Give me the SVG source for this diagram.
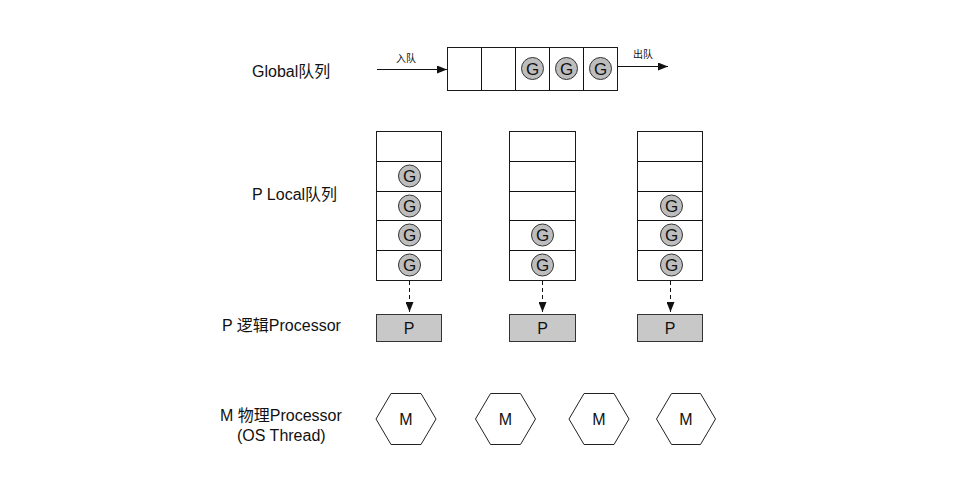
<svg xmlns="http://www.w3.org/2000/svg" width="971" height="499" viewBox="0 0 971 499">
<defs>
<style>
.lbl{font-family:"Liberation Sans","Noto Sans CJK SC",sans-serif;font-size:16px;fill:#111}
.sm{font-family:"Liberation Sans","Noto Sans CJK SC",sans-serif;font-size:10px;fill:#111}
.cell{fill:#fff;stroke:#1a1a1a;stroke-width:1}
.gt{font-family:"Liberation Sans",sans-serif;font-size:16px;fill:#111;text-anchor:middle}
.gg{font-family:"Liberation Sans",sans-serif;font-size:17px;fill:#111;text-anchor:middle}
.pbox{fill:#c8c8c8;stroke:#333;stroke-width:1}
.hex{fill:#fff;stroke:#222;stroke-width:1}
.line{stroke:#111;stroke-width:1;fill:none}
.dash{stroke:#111;stroke-width:1;fill:none;stroke-dasharray:4,3}
</style>
<marker id="ah" markerWidth="10" markerHeight="8" refX="10" refY="4" orient="auto" markerUnits="userSpaceOnUse">
<path d="M0,0 L10,4 L0,8 z" fill="#111"/>
</marker>
<symbol id="gc" overflow="visible">
<circle cx="0" cy="0" r="11" fill="#bdbdbd" stroke="#333" stroke-width="1"/>
<text x="0" y="6" class="gg">G</text>
</symbol>
</defs>
<rect width="971" height="499" fill="#fff"/>

<g id="labels">
<text class="lbl" x="252" y="77">Global队列</text>
<text class="lbl" x="252" y="200">P Local队列</text>
<text class="lbl" x="222" y="331">P 逻辑Processor</text>
<text class="lbl" x="220" y="421">M 物理Processor</text>
<text class="lbl" x="237" y="441">(OS Thread)</text>
</g>

<g id="global-queue">
<rect class="cell" x="447.5" y="47.5" width="170" height="43"/>
<line class="line" x1="481.5" y1="47.5" x2="481.5" y2="90.5"/>
<line class="line" x1="515.5" y1="47.5" x2="515.5" y2="90.5"/>
<line class="line" x1="549.5" y1="47.5" x2="549.5" y2="90.5"/>
<line class="line" x1="583.5" y1="47.5" x2="583.5" y2="90.5"/>
<use href="#gc" x="532.5" y="68.5"/>
<use href="#gc" x="566.5" y="68.5"/>
<use href="#gc" x="600.5" y="68.5"/>
</g>

<g id="local-queue-1">
<rect class="cell" x="376.5" y="131.5" width="65" height="149"/>
<line class="line" x1="376.5" y1="161.5" x2="441.5" y2="161.5"/>
<line class="line" x1="376.5" y1="191.5" x2="441.5" y2="191.5"/>
<line class="line" x1="376.5" y1="220.5" x2="441.5" y2="220.5"/>
<line class="line" x1="376.5" y1="250.5" x2="441.5" y2="250.5"/>
<use href="#gc" x="409.5" y="176"/>
<use href="#gc" x="409.5" y="206"/>
<use href="#gc" x="409.5" y="235"/>
<use href="#gc" x="409.5" y="265"/>
</g>

<g id="local-queue-2">
<rect class="cell" x="509.5" y="131.5" width="66" height="149"/>
<line class="line" x1="509.5" y1="161.5" x2="575.5" y2="161.5"/>
<line class="line" x1="509.5" y1="191.5" x2="575.5" y2="191.5"/>
<line class="line" x1="509.5" y1="220.5" x2="575.5" y2="220.5"/>
<line class="line" x1="509.5" y1="250.5" x2="575.5" y2="250.5"/>
<use href="#gc" x="542.5" y="235"/>
<use href="#gc" x="542.5" y="265"/>
</g>

<g id="local-queue-3">
<rect class="cell" x="637.5" y="131.5" width="65" height="149"/>
<line class="line" x1="637.5" y1="161.5" x2="702.5" y2="161.5"/>
<line class="line" x1="637.5" y1="191.5" x2="702.5" y2="191.5"/>
<line class="line" x1="637.5" y1="220.5" x2="702.5" y2="220.5"/>
<line class="line" x1="637.5" y1="250.5" x2="702.5" y2="250.5"/>
<use href="#gc" x="671.5" y="206"/>
<use href="#gc" x="671.5" y="235"/>
<use href="#gc" x="671.5" y="265"/>
</g>

<g id="p1">
<rect class="pbox" x="376.5" y="314.5" width="65" height="27"/>
<text class="gt" x="409" y="334">P</text>
</g>
<g id="p2">
<rect class="pbox" x="509.5" y="314.5" width="66" height="27"/>
<text class="gt" x="542.5" y="334">P</text>
</g>
<g id="p3">
<rect class="pbox" x="637.5" y="314.5" width="65" height="27"/>
<text class="gt" x="670" y="334">P</text>
</g>

<g id="m1">
<polygon class="hex" points="376,419 391,393.5 421,393.5 436,419 421,444.5 391,444.5"/>
<text class="gt" x="406" y="425">M</text>
</g>
<g id="m2">
<polygon class="hex" points="475.5,419 490.5,393.5 520.5,393.5 535.5,419 520.5,444.5 490.5,444.5"/>
<text class="gt" x="505.5" y="425">M</text>
</g>
<g id="m3">
<polygon class="hex" points="569,419 584,393.5 614,393.5 629,419 614,444.5 584,444.5"/>
<text class="gt" x="599" y="425">M</text>
</g>
<g id="m4">
<polygon class="hex" points="656.5,419 671.5,393.5 700.5,393.5 715.5,419 700.5,444.5 671.5,444.5"/>
<text class="gt" x="686" y="425">M</text>
</g>

<g id="connectors">
<line class="line" x1="377" y1="69.5" x2="447" y2="69.5" marker-end="url(#ah)"/>
<text class="sm" x="396" y="62">入队</text>
<line class="line" x1="617.5" y1="66.5" x2="668" y2="66.5" marker-end="url(#ah)"/>
<text class="sm" x="633" y="58">出队</text>
<line class="dash" x1="409.5" y1="281" x2="409.5" y2="312" marker-end="url(#ah)"/>
<line class="dash" x1="542.5" y1="281" x2="542.5" y2="312" marker-end="url(#ah)"/>
<line class="dash" x1="670.5" y1="281" x2="670.5" y2="312" marker-end="url(#ah)"/>
</g>
</svg>
